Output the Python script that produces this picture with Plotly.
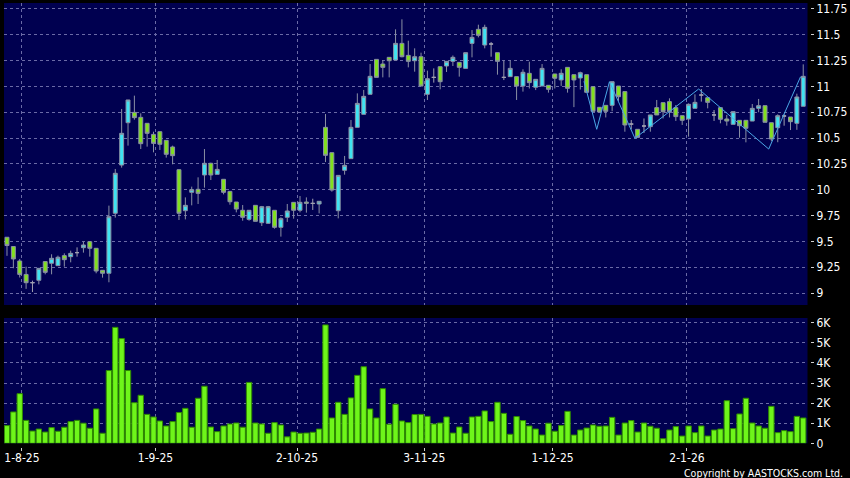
import plotly.graph_objects as go

# ---------------- data ----------------
date_labels = ["1-8-25", "1-9-25", "2-10-25", "3-11-25", "1-12-25", "2-1-26"]

opens = [9.54, 9.45, 9.31, 9.18, 9.10, 9.123, 9.304, 9.288, 9.265, 9.362,
         9.352, 9.391, 9.439, 9.497, 9.433, 9.220, 9.191, 9.772, 10.239, 10.649,
         10.749, 10.701, 10.643, 10.536, 10.562, 10.478, 10.414, 10.194, 9.797, 9.975,
         10.004, 10.143, 10.256, 10.149, 10.101, 9.984, 9.881, 9.801, 9.713, 9.849,
         9.681, 9.675, 9.801, 9.636, 9.733, 9.878, 9.801, 9.881, 9.868, 9.862,
         10.604, 10.359, 9.797, 10.188, 10.301, 10.604, 10.730, 10.924, 11.262, 11.217,
         11.282, 11.256, 11.417, 11.301, 11.249, 11.288, 10.924, 11.088, 11.191, 11.198,
         11.243, 11.233, 11.175, 11.417, 11.553, 11.401, 11.411, 11.327, 11.088, 11.095,
         11.095, 11.004, 11.127, 10.992, 11.004, 11.011, 11.121, 11.063, 11.185, 11.114,
         11.082, 11.114, 10.998, 10.798, 10.817, 10.817, 11.004, 10.950, 10.636, 10.585,
         10.617, 10.611, 10.795, 10.843, 10.853, 10.795, 10.717, 10.685, 10.788, 10.917,
         10.891, 10.724, 10.795, 10.685, 10.633, 10.672, 10.672, 10.665, 10.788, 10.814,
         10.649, 10.601, 10.714, 10.704, 10.643, 10.808]
highs = [9.54, 9.45, 9.33, 9.255, 9.12, 9.24, 9.304, 9.375, 9.362, 9.384,
         9.410, 9.442, 9.497, 9.497, 9.433, 9.220, 9.846, 10.201, 10.782, 10.870,
         10.911, 10.740, 10.643, 10.562, 10.562, 10.478, 10.427, 10.200, 9.926, 10.030,
         10.120, 10.394, 10.262, 10.288, 10.101, 9.984, 9.881, 9.852, 9.801, 9.849,
         9.843, 9.843, 9.801, 9.733, 9.862, 9.881, 9.939, 9.926, 9.913, 9.888,
         10.733, 10.359, 10.139, 10.327, 10.675, 10.933, 10.966, 11.217, 11.262, 11.256,
         11.282, 11.553, 11.650, 11.443, 11.369, 11.327, 11.153, 11.175, 11.191, 11.243,
         11.300, 11.233, 11.327, 11.546, 11.598, 11.598, 11.430, 11.327, 11.250, 11.250,
         11.095, 11.166, 11.240, 11.069, 11.217, 11.011, 11.121, 11.166, 11.185, 11.114,
         11.143, 11.114, 10.998, 10.798, 10.817, 11.046, 11.004, 10.950, 10.675, 10.585,
         10.690, 10.724, 10.869, 10.843, 10.885, 10.820, 10.717, 10.836, 10.924, 10.975,
         10.891, 10.772, 10.795, 10.724, 10.756, 10.672, 10.672, 10.830, 10.879, 10.814,
         10.649, 10.730, 10.730, 10.704, 10.930, 11.214]
lows = [9.36, 9.24, 9.15, 9.04, 9.01, 9.084, 9.181, 9.181, 9.265, 9.255,
        9.297, 9.352, 9.391, 9.352, 9.191, 9.149, 9.104, 9.730, 10.214, 10.427,
        10.678, 10.394, 10.417, 10.362, 10.385, 10.311, 10.246, 9.707, 9.713, 9.849,
        9.862, 10.020, 10.094, 10.149, 9.955, 9.855, 9.781, 9.700, 9.700, 9.694,
        9.649, 9.669, 9.623, 9.546, 9.688, 9.720, 9.781, 9.778, 9.804, 9.771,
        10.268, 9.981, 9.723, 10.146, 10.301, 10.604, 10.730, 10.924, 11.088, 11.088,
        11.088, 11.256, 11.282, 11.185, 11.143, 11.004, 10.869, 11.037, 10.972, 11.140,
        11.198, 11.095, 11.175, 11.282, 11.475, 11.369, 11.288, 11.114, 11.062, 11.095,
        10.869, 10.950, 10.980, 10.965, 11.004, 10.940, 10.980, 11.005, 10.940, 10.800,
        10.970, 10.943, 10.759, 10.753, 10.700, 10.760, 10.860, 10.562, 10.585, 10.507,
        10.550, 10.562, 10.724, 10.690, 10.700, 10.666, 10.627, 10.514, 10.788, 10.853,
        10.788, 10.666, 10.643, 10.620, 10.633, 10.504, 10.459, 10.665, 10.750, 10.653,
        10.470, 10.460, 10.620, 10.578, 10.580, 10.808]
closes = [9.46, 9.33, 9.18, 9.10, 9.10, 9.239, 9.200, 9.336, 9.346, 9.323,
          9.384, 9.391, 9.465, 9.433, 9.213, 9.191, 9.739, 10.159, 10.546, 10.869,
          10.698, 10.446, 10.546, 10.449, 10.440, 10.343, 10.330, 9.772, 9.849, 10.001,
          9.965, 10.256, 10.143, 10.197, 9.975, 9.884, 9.813, 9.733, 9.801, 9.694,
          9.836, 9.836, 9.636, 9.720, 9.794, 9.801, 9.878, 9.868, 9.868, 9.888,
          10.333, 9.997, 10.139, 10.236, 10.604, 10.836, 10.904, 11.098, 11.088, 11.185,
          11.249, 11.417, 11.288, 11.243, 11.288, 11.004, 11.075, 11.088, 11.046, 11.243,
          11.282, 11.185, 11.327, 11.475, 11.495, 11.572, 11.411, 11.243, 11.088, 11.175,
          11.004, 11.137, 11.037, 11.069, 11.175, 10.972, 11.079, 11.127, 10.982, 11.063,
          11.133, 10.943, 10.759, 10.753, 10.759, 11.046, 10.901, 10.627, 10.636, 10.507,
          10.617, 10.724, 10.724, 10.756, 10.756, 10.708, 10.672, 10.827, 10.846, 10.917,
          10.846, 10.724, 10.682, 10.665, 10.756, 10.620, 10.595, 10.788, 10.814, 10.653,
          10.491, 10.717, 10.714, 10.659, 10.898, 11.098]
volumes_k = [0.88, 1.56, 2.47, 1.14, 0.61, 0.71, 0.56, 0.78, 0.60, 0.80,
             1.08, 1.14, 1.00, 0.75, 1.71, 0.50, 3.62, 5.77, 5.21, 3.62,
             2.02, 2.39, 1.44, 1.31, 1.11, 0.86, 1.08, 1.53, 1.74, 0.80,
             2.24, 2.84, 0.81, 0.58, 0.86, 0.96, 1.01, 0.80, 3.03, 1.01,
             0.96, 0.50, 1.03, 0.91, 0.32, 0.56, 0.50, 0.51, 0.55, 0.71,
             5.89, 1.26, 2.04, 1.44, 2.26, 3.38, 3.81, 1.71, 1.26, 2.72,
             0.95, 1.94, 1.11, 1.03, 1.43, 1.44, 1.34, 0.96, 1.01, 1.31,
             0.51, 0.81, 0.50, 1.31, 1.34, 1.61, 1.08, 2.04, 1.49, 0.45,
             1.33, 1.13, 0.86, 0.71, 0.41, 1.00, 0.60, 0.88, 1.59, 0.41,
             0.66, 0.76, 0.91, 0.85, 0.86, 1.29, 0.41, 1.01, 1.13, 0.56,
             1.01, 0.85, 0.75, 0.23, 0.66, 0.83, 0.36, 0.86, 0.53, 0.86,
             0.36, 0.66, 0.71, 2.12, 0.73, 1.46, 2.24, 1.01, 0.86, 0.75,
             1.84, 0.53, 0.63, 0.58, 1.34, 1.26]
zig_idx = [91, 93, 95, 99, 109, 120, 125]
zig_val = [11.05, 10.585, 11.046, 10.498, 10.975, 10.394, 11.094]

price_ticks = [9, 9.25, 9.5, 9.75, 10, 10.25, 10.5, 10.75, 11, 11.25, 11.5, 11.75]
vol_ticks = [0, 1, 2, 3, 4, 5, 6]
vol_tick_text = ["0", "1K", "2K", "3K", "4K", "5K", "6K"]

# ---------------- styling ----------------
NAVY = "#000050"
GRID = "#6a6aa6"
CYAN = "#3fe3f2"
LIME = "#82e01e"
EDGE = "#8a90a4"
DOJI = "#a0a0b0"
VOLF = "#6ef51a"
VOLE = "#2f8a00"
FONT = "DejaVu Sans Condensed, DejaVu Sans, sans-serif"

n = len(opens)
xs = list(range(n))
up = [i for i in xs if closes[i] > opens[i]]
dn = [i for i in xs if closes[i] < opens[i]]
dj = [i for i in xs if closes[i] == opens[i]]


def sub(arr, idx):
    return [arr[i] for i in idx]


def candle(idx, fill, line):
    return go.Candlestick(
        x=idx, open=sub(opens, idx), high=sub(highs, idx), low=sub(lows, idx),
        close=sub(closes, idx),
        increasing=dict(fillcolor=fill, line=dict(color=line, width=1)),
        decreasing=dict(fillcolor=fill, line=dict(color=line, width=1)),
        whiskerwidth=0, showlegend=False, xaxis="x", yaxis="y", hoverinfo="skip")


fig = go.Figure()
fig.add_trace(candle(up, CYAN, EDGE))
fig.add_trace(candle(dn, LIME, EDGE))
fig.add_trace(candle(dj, DOJI, DOJI))
fig.add_trace(go.Scatter(x=[i - 0.42 for i in zig_idx], y=zig_val, mode="lines",
                         line=dict(color="#4aa6e6", width=1), showlegend=False,
                         xaxis="x", yaxis="y", hoverinfo="skip"))
fig.add_trace(go.Bar(x=xs, y=volumes_k, marker=dict(color=VOLF, line=dict(color=VOLE, width=1)),
                     showlegend=False, xaxis="x2", yaxis="y2", hoverinfo="skip"))

# pixel geometry
W, H = 850, 478
ML, MR, MT, MB = 4, 40, 3, 31
pw, ph = W - ML - MR, H - MT - MB
xdom_end = (807.5 - ML) / pw
pbot = (H - MB - 305) / ph
vtop = (H - MB - 318) / ph
vbot = (H - MB - 443.3) / ph

grid_pos = [2.35, 23.31, 45.53, 65.51, 85.65, 106.75]
xrange_ = [-0.47, 125.67]

common_x = dict(range=xrange_, tickvals=grid_pos, showgrid=True, gridcolor=GRID,
                griddash="3px,3px", gridwidth=1, zeroline=False, showline=False,
                fixedrange=True, automargin=False)
fig.update_layout(
    width=W, height=H,
    margin=dict(l=ML, r=MR, t=MT, b=MB, pad=0, autoexpand=False),
    paper_bgcolor="#000000", plot_bgcolor=NAVY,
    font=dict(family=FONT, size=12, color="#ffffff"),
    boxgap=0.12, bargap=0.16,
    xaxis=dict(domain=[0, xdom_end], anchor="y", showticklabels=False, ticks="",
               rangeslider=dict(visible=False), **common_x),
    yaxis=dict(domain=[pbot, 1], anchor="free", position=1, side="right",
               range=[8.884, 11.808], tickvals=price_ticks,
               ticktext=[("%g" % v) for v in price_ticks],
               ticks="outside", ticklen=3, tickcolor="#d0d0d0", tickwidth=1,
               showgrid=True, gridcolor=GRID, griddash="3px,3px", zeroline=False,
               automargin=False, fixedrange=True,
               tickfont=dict(family=FONT, size=12, color="#ffffff")),
    xaxis2=dict(domain=[0, xdom_end], anchor="free", position=0,
                ticktext=date_labels, ticks="outside", ticklen=3, tickcolor="#d0d0d0",
                ticklabelstandoff=-3,
                tickfont=dict(family=FONT, size=12, color="#ffffff"), **common_x),
    yaxis2=dict(domain=[vbot, vtop], anchor="free", position=1, side="right",
                range=[0, 6.234], tickvals=vol_ticks, ticktext=vol_tick_text,
                ticks="outside", ticklen=3, tickcolor="#d0d0d0",
                showgrid=True, gridcolor=GRID, griddash="3px,3px", zeroline=False,
                automargin=False, fixedrange=True,
                tickfont=dict(family=FONT, size=12, color="#ffffff")),
    annotations=[dict(text="Copyright by AASTOCKS.com Ltd.", xref="paper", yref="paper",
                      x=(845 - ML) / pw, y=(H - MB - 472.5) / ph, xanchor="right",
                      yanchor="middle", showarrow=False,
                      font=dict(family=FONT, size=10.5, color="#ffffff"))],
)

fig.write_html("out.html", config={"displayModeBar": False},
               post_script="document.body.style.margin='0';document.body.style.background='#000';")
